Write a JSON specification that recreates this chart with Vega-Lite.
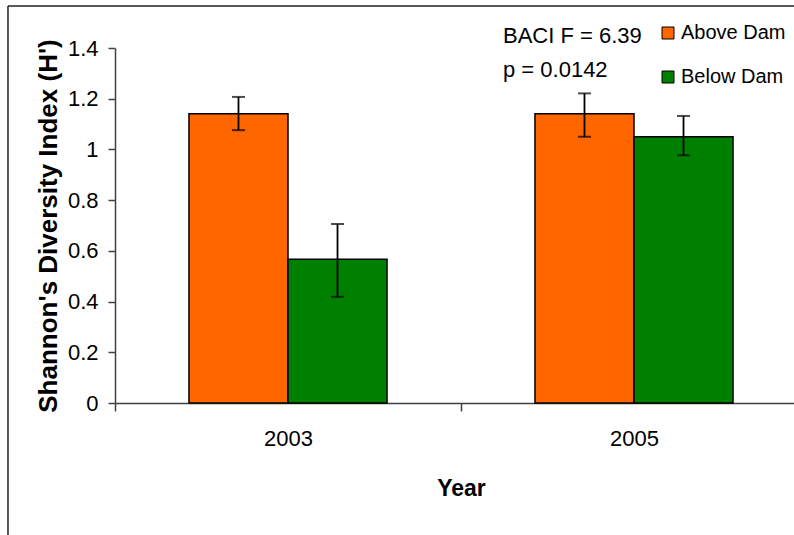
{
  "$schema": "https://vega.github.io/schema/vega-lite/v6.json",
  "width": 679,
  "height": 355,
  "autosize": {"type": "none"},
  "padding": {"left": 115, "top": 48, "right": 0, "bottom": 132},
  "background": "white",
  "config": {
    "view": {"stroke": null},
    "font": "Liberation Sans",
    "axis": {"domainColor": "#404040", "tickColor": "#404040", "labelColor": "black", "titleColor": "black", "grid": false}
  },
  "data": {
    "values": [
      {"year": "2003", "site": "Above Dam", "mean": 1.141, "lo": 1.076, "hi": 1.207},
      {"year": "2003", "site": "Below Dam", "mean": 0.567, "lo": 0.419, "hi": 0.706},
      {"year": "2005", "site": "Above Dam", "mean": 1.141, "lo": 1.050, "hi": 1.221},
      {"year": "2005", "site": "Below Dam", "mean": 1.050, "lo": 0.977, "hi": 1.132}
    ]
  },
  "layer": [
    {
      "encoding": {
        "x": {
          "field": "year", "type": "nominal",
          "scale": {"domain": ["2003", "2005"], "range": [0, 692], "paddingInner": 0, "paddingOuter": 0},
          "axis": {
            "title": "Year", "titleFontSize": 23, "titleFontWeight": "bold", "titlePadding": 28,
            "labelFontSize": 22, "labelPadding": 17, "labelAngle": 0, "tickSize": 8, "tickBand": "extent",
            "domainWidth": 1.5, "tickWidth": 1.5
          }
        }
      },
      "layer": [
        {
          "mark": {"type": "bar", "stroke": "black", "strokeWidth": 1.5},
          "encoding": {
            "xOffset": {"field": "site", "type": "nominal", "scale": {"domain": ["Above Dam", "Below Dam"], "paddingInner": 0, "paddingOuter": 0.747}},
            "y": {
              "field": "mean", "type": "quantitative",
              "scale": {"domain": [0, 1.4], "nice": false, "zero": true},
              "axis": {
                "title": "Shannon's Diversity Index (H')", "titleFontSize": 26, "titleFontWeight": "bold", "titlePadding": 6,
                "values": [0, 0.2, 0.4, 0.6, 0.8, 1, 1.2, 1.4], "format": ".1~f",
                "labelFontSize": 22, "labelPadding": 10, "tickSize": 7, "domainWidth": 1.5, "tickWidth": 1.5
              }
            },
            "color": {
              "field": "site", "type": "nominal",
              "scale": {"domain": ["Above Dam", "Below Dam"], "range": ["#FF6600", "#008000"]},
              "legend": {
                "title": null, "orient": "none", "legendX": 543, "legendY": -25,
                "symbolType": "square", "symbolSize": 144, "symbolStrokeColor": "black", "symbolStrokeWidth": 1,
                "symbolOpacity": 1, "labelFontSize": 20, "labelOffset": 3, "rowPadding": 24, "padding": 0, "labelColor": "black"
              }
            }
          }
        },
        {
          "mark": {"type": "rule", "color": "black", "strokeWidth": 1.8},
          "encoding": {
            "xOffset": {"field": "site", "type": "nominal"},
            "y": {"field": "lo", "type": "quantitative"}, "y2": {"field": "hi"}
          }
        },
        {
          "mark": {"type": "tick", "color": "black", "size": 13, "thickness": 2},
          "encoding": {
            "xOffset": {"field": "site", "type": "nominal"},
            "y": {"field": "lo", "type": "quantitative"}
          }
        },
        {
          "mark": {"type": "tick", "color": "black", "size": 13, "thickness": 2},
          "encoding": {
            "xOffset": {"field": "site", "type": "nominal"},
            "y": {"field": "hi", "type": "quantitative"}
          }
        },
        {
          "data": {"values": [{"note": "BACI F = 6.39"}]},
          "mark": {"type": "text", "text": ["BACI F = 6.39", "p = 0.0142"], "lineHeight": 34, "align": "left", "baseline": "alphabetic", "fontSize": 22, "color": "black", "dx": -131},
          "encoding": {
            "x": {"datum": "2005", "type": "nominal"},
            "y": {"datum": 1.4197, "type": "quantitative"}
          }
        }
      ]
    },
    {
      "data": {"values": [{"frame": "chart area"}]},
      "layer": [
        {
          "mark": {"type": "rule", "color": "#222", "strokeWidth": 1.5},
          "encoding": {
            "x": {"datum": -0.1576, "type": "quantitative", "scale": {"domain": [0, 1], "nice": false, "zero": false}, "axis": null},
            "y": {"datum": 1.5656, "type": "quantitative"},
            "y2": {"datum": -0.6}
          }
        },
        {
          "mark": {"type": "rule", "color": "#222", "strokeWidth": 1.5},
          "encoding": {
            "x": {"datum": -0.1576, "type": "quantitative", "scale": {"domain": [0, 1], "nice": false, "zero": false}, "axis": null},
            "x2": {"datum": 1.3},
            "y": {"datum": 1.5656, "type": "quantitative"}
          }
        }
      ]
    }
  ],
  "resolve": {"scale": {"x": "independent"}}
}
